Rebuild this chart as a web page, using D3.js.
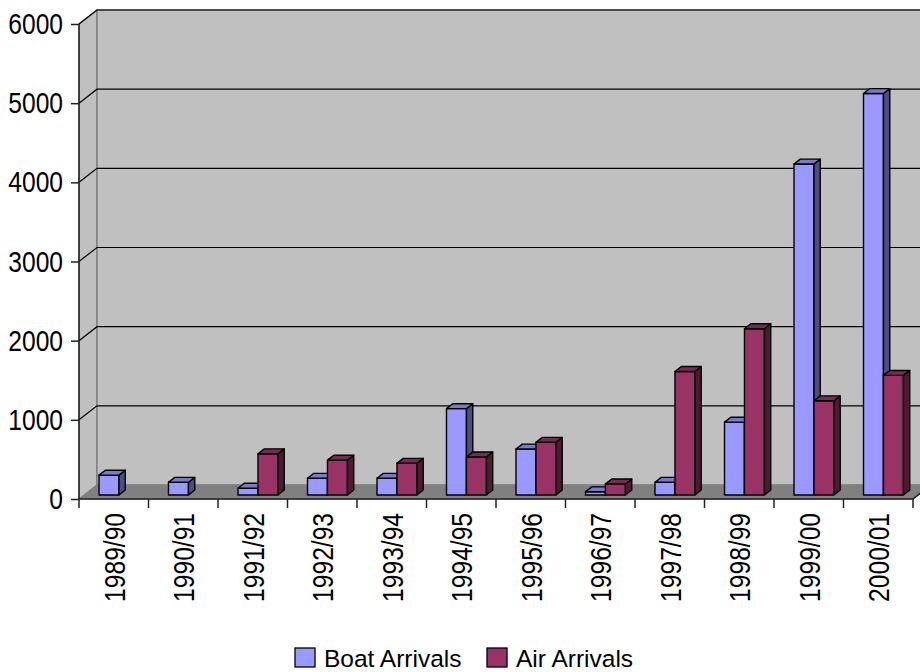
<!DOCTYPE html>
<html>
<head>
<meta charset="utf-8">
<script src="https://cdn.jsdelivr.net/npm/d3@7"></script>
<style>
  body { margin: 0; background: #fff; }
  text { font-family: "Liberation Sans", Arial, sans-serif; }
</style>
</head>
<body>
<div id="chart"></div>
<script>
const years = ['1989/90', '1990/91', '1991/92', '1992/93', '1993/94', '1994/95',
  '1995/96', '1996/97', '1997/98', '1998/99', '1999/00', '2000/01'];
const boatArrivals = [250, 160, 85, 210, 210, 1090, 580, 40, 160, 920, 4180, 5070];
const airArrivals = [0, 0, 520, 440, 400, 480, 665, 140, 1560, 2100, 1190, 1510];
const yTicks = [0, 1000, 2000, 3000, 4000, 5000, 6000];
const seriesNames = ['Boat Arrivals', 'Air Arrivals'];

const width = 920, height = 672;
const depth = {dx: 18, dy: -14};
const narrow = 0.82; // no narrow font installed, squeeze the regular one
const colors = [
  {face: '#9999ff', side: '#4d4d80', top: '#7a7acc'},
  {face: '#993366', side: '#4d1a33', top: '#7a2952'},
];

const svg = d3.select('#chart').append('svg')
  .attr('width', width)
  .attr('height', height);

const x = d3.scaleBand().domain(years).range([79, 913]);
const y = d3.scaleLinear().domain([0, 6000]).range([499, 24]);
const inner = d3.scaleBand().domain([0, 1]).range([0, x.bandwidth()]).paddingOuter(0.74).paddingInner(0);

const off = (p, f) => [p[0] + depth.dx * f, p[1] + depth.dy * f];
const poly = pts => 'M' + pts.map(p => p.join(',')).join('L') + 'Z';

// walls and floor
const x0 = x.range()[0], x1 = x.range()[1];
svg.append('path')
  .attr('d', poly([[x0, y(6000)], off([x0, y(6000)], 1), off([x0, y(0)], 1), [x0, y(0)]]))
  .attr('fill', '#c0c0c0').attr('stroke', '#808080').attr('stroke-width', 1.5);
svg.append('path')
  .attr('d', poly([off([x0, y(6000)], 1), off([x1, y(6000)], 1), off([x1, y(0)], 1), off([x0, y(0)], 1)]))
  .attr('fill', '#c0c0c0').attr('stroke', '#808080').attr('stroke-width', 1.5);
svg.append('path')
  .attr('d', poly([[x0, y(0)], [x1, y(0)], off([x1, y(0)], 1), off([x0, y(0)], 1)]))
  .attr('fill', '#808080').attr('stroke', '#808080');

// gridlines
yTicks.filter(v => v > 0).forEach(v => {
  const a = [x0, y(v)], b = off(a, 1), c = off([x1, y(v)], 1);
  svg.append('path')
    .attr('d', `M${a.join(',')}L${b.join(',')}L${c.join(',')}`)
    .attr('fill', 'none').attr('stroke', '#000').attr('stroke-width', 1.2);
});

// front edges
svg.append('line')
  .attr('x1', x0).attr('x2', x0).attr('y1', y(6000)).attr('y2', y(0))
  .attr('stroke', '#222').attr('stroke-width', 1.5);
svg.append('path')
  .attr('d', `M${x0},${y(0)}L${x1},${y(0)}L${off([x1, y(0)], 1).join(',')}`)
  .attr('fill', 'none').attr('stroke', '#222').attr('stroke-width', 1.5);

// bars
const f0 = 0.29, f1 = 0.64;
function drawBar(g, bx, bw, v, col) {
  if (v <= 0) return;
  const fl = [bx, y(v)], fr = [bx + bw, y(v)], br = [bx + bw, y(0)], bl = [bx, y(0)];
  const A = off(fl, f0), B = off(fr, f0), C = off(br, f0), D = off(bl, f0);
  const B1 = off(fr, f1), C1 = off(br, f1), A1 = off(fl, f1);
  g.append('path').attr('d', poly([A, B, C, D])).attr('fill', col.face);
  g.append('path').attr('d', poly([B, B1, C1, C])).attr('fill', col.side);
  g.append('path').attr('d', poly([A, A1, B1, B])).attr('fill', col.top);
}

const barG = svg.append('g')
  .attr('stroke', '#000').attr('stroke-width', 1.4).attr('stroke-linejoin', 'round');
years.forEach((yr, i) => {
  [boatArrivals[i], airArrivals[i]].forEach((v, s) => {
    drawBar(barG, x(yr) + inner(s), inner.bandwidth(), v, colors[s]);
  });
});

// y axis
const yAxis = svg.append('g')
  .attr('transform', `translate(${x0},0)`)
  .call(d3.axisLeft(y).tickValues(yTicks).tickSize(8).tickPadding(0).tickFormat(d3.format('d')));
yAxis.select('.domain').remove();
yAxis.selectAll('.tick line').attr('stroke', '#222').attr('stroke-width', 1.5);
yAxis.selectAll('.tick text').attr('font-size', 30).attr('fill', '#000')
  .attr('x', -16 / narrow)
  .attr('transform', `scale(${narrow},1)`);

// x axis ticks on band boundaries
svg.append('g').selectAll('line')
  .data(years.map(d => x(d)).concat([x1]))
  .join('line')
  .attr('x1', d => d).attr('x2', d => d)
  .attr('y1', y(0)).attr('y2', y(0) + 9)
  .attr('stroke', '#222').attr('stroke-width', 1.5);

const xAxis = svg.append('g')
  .attr('transform', `translate(0,${y(0)})`)
  .call(d3.axisBottom(x).tickSize(0));
xAxis.select('.domain').remove();
xAxis.selectAll('.tick text')
  .attr('font-size', 30).attr('fill', '#000')
  .attr('transform', `rotate(-90) scale(${narrow},1)`)
  .attr('text-anchor', 'end')
  .attr('x', -14 / narrow).attr('y', 0).attr('dy', '0.36em');

// legend
const legend = svg.append('g').attr('transform', 'translate(295,648)');
const legX = [0, 192];
seriesNames.forEach((name, s) => {
  const g = legend.append('g').attr('transform', `translate(${legX[s]},0)`);
  g.append('rect').attr('width', 20).attr('height', 19)
    .attr('fill', colors[s].face).attr('stroke', '#000').attr('stroke-width', 1.3);
  g.append('text').attr('x', 29).attr('y', 19)
    .attr('font-size', 24.5)
    .text(name);
});
</script>
</body>
</html>
